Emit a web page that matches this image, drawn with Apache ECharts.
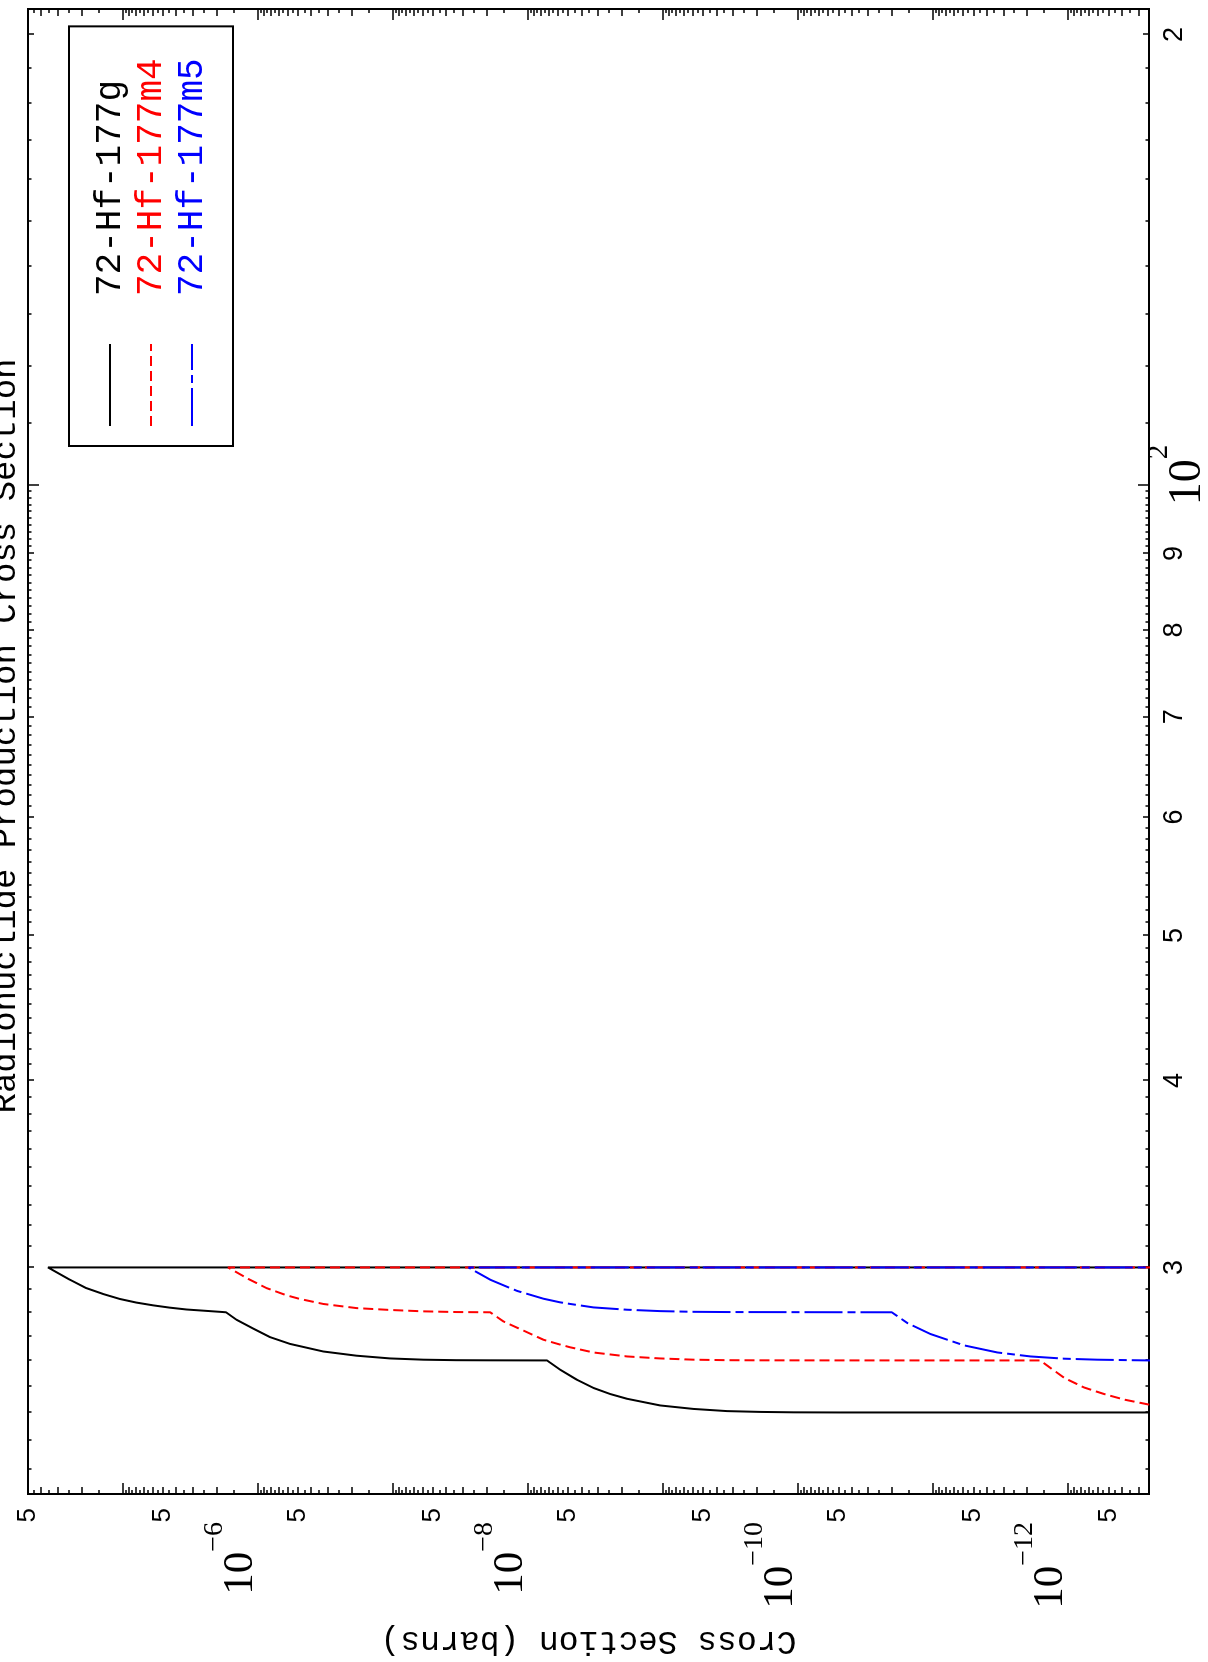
<!DOCTYPE html>
<html><head><meta charset="utf-8">
<script src="https://cdn.jsdelivr.net/npm/echarts@6/dist/echarts.min.js"></script>
<style>
html,body{margin:0;padding:0;width:1208px;height:1662px;overflow:hidden;background:#fff;}
#wrap{position:absolute;left:0;top:0;width:1662px;height:1208px;transform-origin:0 0;transform:translate(0px,1662px) rotate(-90deg);}
#chart{width:1662px;height:1208px;background:#fff;}
</style></head><body>
<div id="wrap"><div id="chart"></div></div>
<script>
// ---------------- data (energy in MeV, cross section in barns) ----------------
const seriesNames = ['72-Hf-177g', '72-Hf-177m4', '72-Hf-177m5'];
const seriesColors = ['#000000', '#ff0000', '#0000ff'];

const hf177g = [
  [24.0, 1e-14], [24.0, 4.8e-11], [24.005, 1.07e-10], [24.02, 1.88e-10], [24.05, 3.32e-10],
  [24.13, 5.88e-10], [24.26, 1.04e-9], [24.51, 1.83e-9], [24.69, 2.44e-9], [24.92, 3.24e-9],
  [25.24, 4.31e-9], [25.63, 5.72e-9], [26.0, 7.18e-9], [26.005, 1.89e-8], [26.01, 3.34e-8],
  [26.03, 5.9e-8], [26.08, 1.04e-7], [26.19, 1.84e-7], [26.36, 3.25e-7], [26.67, 5.74e-7],
  [26.95, 8.07e-7], [27.30, 1.07e-6], [27.68, 1.43e-6], [28.0, 1.71e-6], [28.02, 1.9e-6],
  [28.07, 2.52e-6], [28.12, 3.35e-6], [28.20, 4.45e-6], [28.30, 5.92e-6], [28.42, 7.86e-6],
  [28.58, 1.045e-5], [28.80, 1.39e-5], [29.06, 1.85e-5], [29.44, 2.45e-5], [30.0, 3.56e-5],
  [30.0, 1e-14]
];
const hf177m4 = [
  [24.29, 2.49e-13], [24.48, 3.82e-13], [24.69, 5.37e-13], [24.94, 7.56e-13], [25.31, 1.06e-12],
  [26.0, 1.6e-12], [26.002, 4.81e-11], [26.005, 1.88e-10], [26.01, 3.32e-10], [26.03, 5.88e-10],
  [26.08, 1.04e-9], [26.16, 1.83e-9], [26.32, 3.24e-9], [26.53, 4.82e-9], [26.64, 5.72e-9],
  [26.84, 7.61e-9], [27.22, 1.07e-8], [27.61, 1.51e-8], [28.0, 1.89e-8], [28.01, 3.34e-8],
  [28.04, 5.9e-8], [28.10, 1.04e-7], [28.18, 1.84e-7], [28.36, 3.25e-7], [28.58, 4.85e-7],
  [28.74, 6.08e-7], [29.06, 8.55e-7], [29.51, 1.2e-6], [30.0, 1.65e-6], [30.0, 1e-14]
];
const hf177m5 = [
  [26.0, 1e-14], [26.0, 2.49e-13], [26.03, 6.01e-13], [26.07, 1.06e-12], [26.16, 1.88e-12],
  [26.32, 3.31e-12], [26.61, 5.86e-12], [27.08, 1.04e-11], [27.54, 1.54e-11], [28.0, 2.01e-11],
  [28.002, 4.81e-11], [28.01, 3.32e-10], [28.02, 5.88e-10], [28.05, 1.04e-9], [28.11, 1.83e-9],
  [28.21, 3.24e-9], [28.36, 4.82e-9], [28.43, 5.72e-9], [28.59, 7.61e-9], [28.94, 1.2e-8],
  [29.44, 1.89e-8], [30.0, 2.74e-8], [30.0, 1e-14]
];

// ---------------- axes ranges and tick labels ----------------
const E_MIN = 21.17, E_MAX = 208;
const XS_MIN = 2.5e-13, XS_MAX = 5e-5;
const energyLabelValues = [30, 40, 50, 60, 70, 80, 90, 200];
const energyLabelTexts = ['3', '4', '5', '6', '7', '8', '9', '2'];
const energyDecadeValues = [100];
const energyDecadeTexts = ['2'];          // exponent of 10
const xsFiveValues = [5e-5, 5e-6, 5e-7, 5e-8, 5e-9, 5e-10, 5e-11, 5e-12, 5e-13];
const xsDecadeLabelValues = [1e-6, 1e-8, 1e-10, 1e-12];
const xsDecadeLabelTexts = ['\u22126', '\u22128', '\u221210', '\u221212'];
const xsDecadeTickValues = [1e-5, 1e-6, 1e-7, 1e-8, 1e-9, 1e-10, 1e-11, 1e-12];

// minor tick positions
const energyMidTicks = [30, 40, 50, 60, 70, 80, 90, 200];
const energySmallTicks = [];
for (let d = 2; d <= 9; d++) for (let u = 1; u <= 9; u++) energySmallTicks.push(d * 10 + u);
for (let u = 11; u <= 19; u++) energySmallTicks.push(u * 10);
const xsMidTicks = [], xsSmallTicks = [];
for (let n = -13; n <= -5; n++) {
  for (let m = 2; m <= 9; m++) xsMidTicks.push(+(m * Math.pow(10, n)).toPrecision(6));
  for (let m = 1.5; m < 10; m += 1) xsSmallTicks.push(+(m * Math.pow(10, n)).toPrecision(6));
}

const MONO = "'Liberation Mono', 'DejaVu Sans Mono', monospace";
const SANS = "'Liberation Sans', Arial, sans-serif";
const SERIF = "'Liberation Serif', 'Times New Roman', serif";

function lookup(values, texts, v) {
  for (let i = 0; i < values.length; i++) {
    if (Math.abs(Math.log10(v) - Math.log10(values[i])) < 1e-6) return texts[i];
  }
  return '';
}
const tickLine = { color: '#000', width: 1.5 };
const supRichE = {
  b: { fontFamily: SERIF, fontSize: 46, lineHeight: 66, verticalAlign: 'bottom', color: '#000' },
  s: { fontFamily: SERIF, fontSize: 29, lineHeight: 29, verticalAlign: 'top', color: '#000' }
};
const supRichS = {
  b: { fontFamily: SERIF, fontSize: 43, lineHeight: 62, verticalAlign: 'bottom', color: '#000' },
  s: { fontFamily: SERIF, fontSize: 28, lineHeight: 28, verticalAlign: 'top', color: '#000' }
};

function eAxis(pos, ticks, len, label) {
  return {
    type: 'log', logBase: 10, min: E_MIN, max: E_MAX, position: pos, gridIndex: 0,
    axisLine: { show: false, onZero: false }, splitLine: { show: false },
    axisTick: { show: true, inside: true, length: len, customValues: ticks, lineStyle: tickLine },
    axisLabel: label || { show: false }
  };
}
function sAxis(pos, ticks, len, label, extra) {
  return Object.assign({
    type: 'log', logBase: 10, min: XS_MIN, max: XS_MAX, position: pos, gridIndex: 0,
    axisLine: { show: false, onZero: false }, splitLine: { show: false },
    axisTick: { show: true, inside: true, length: len, customValues: ticks, lineStyle: tickLine },
    axisLabel: label || { show: false }
  }, extra || {});
}

const xAxes = [
  eAxis('bottom', energyMidTicks, 6, {
    show: true, customValues: energyLabelValues, margin: 12,
    formatter: v => lookup(energyLabelValues, energyLabelTexts, v),
    fontFamily: SANS, fontSize: 27, color: '#000'
  }),
  eAxis('bottom', energyDecadeValues, 11, {
    show: true, customValues: energyDecadeValues, margin: -4, align: 'center', padding: [0, 0, 0, 20],
    formatter: v => '{b|10}{s|' + lookup(energyDecadeValues, energyDecadeTexts, v) + '}',
    rich: supRichE
  }),
  eAxis('bottom', energySmallTicks, 3.5),
  eAxis('top', energyMidTicks, 6),
  eAxis('top', energyDecadeValues, 11),
  eAxis('top', energySmallTicks, 3.5)
];
const yAxes = [
  sAxis('left', xsMidTicks, 7, {
    show: true, customValues: xsFiveValues, margin: 14, padding: [0, 0, 12, 0],
    formatter: () => '5', fontFamily: SANS, fontSize: 26, color: '#000'
  }, {
    name: 'Cross Section (barns)', nameLocation: 'middle', nameGap: 130, nameRotate: 90,
    nameTextStyle: { fontFamily: MONO, fontSize: 33, color: '#000' }
  }),
  sAxis('left', xsDecadeTickValues, 11, {
    show: true, customValues: xsDecadeLabelValues, margin: 28, padding: [0, 0, 52, 0],
    formatter: v => '{b|10}{s|' + lookup(xsDecadeLabelValues, xsDecadeLabelTexts, v) + '}',
    rich: supRichS
  }),
  sAxis('left', xsSmallTicks, 4),
  sAxis('right', xsMidTicks, 7),
  sAxis('right', xsDecadeTickValues, 11),
  sAxis('right', xsSmallTicks, 4)
];

const lineTypes = ['solid', [10, 5], [38, 5, 8, 5]];
const datasets = [hf177g, hf177m4, hf177m5];

const chart = echarts.init(document.getElementById('chart'), null, { renderer: 'canvas' });
chart.setOption({
  animation: false,
  backgroundColor: '#fff',
  title: {
    text: 'Radionuclide Production Cross Section', left: 926, top: -11, textAlign: 'center', padding: 0,
    textStyle: { fontFamily: MONO, fontSize: 34, fontWeight: 'normal', color: '#000' }
  },
  legend: {
    orient: 'vertical', left: 1216, top: 69, padding: [23, 32, 23, 19], itemGap: 5,
    itemWidth: 82, itemHeight: 36, borderColor: '#000', borderWidth: 2, selectedMode: false,
    itemStyle: { color: 'rgba(0,0,0,0)', borderColor: 'rgba(0,0,0,0)', borderWidth: 0, opacity: 0 },
    textStyle: { fontFamily: MONO, fontSize: 36, padding: [0, 0, 0, 43] },
    data: seriesNames.map((n, i) => ({ name: n, textStyle: { color: seriesColors[i] } }))
  },
  grid: {
    left: 168, right: 9, top: 28, bottom: 59, show: true, borderColor: '#000', borderWidth: 2,
    outerBoundsMode: 'none', containLabel: false
  },
  xAxis: xAxes,
  yAxis: yAxes,
  series: datasets.map((d, i) => ({
    name: seriesNames[i], type: 'line', xAxisIndex: 0, yAxisIndex: 0, data: d,
    showSymbol: false, symbol: 'none', clip: true, z: 2 + i,
    lineStyle: { color: seriesColors[i], width: 2, type: lineTypes[i] },
    itemStyle: { color: seriesColors[i] }
  }))
});
</script>
</body></html>
